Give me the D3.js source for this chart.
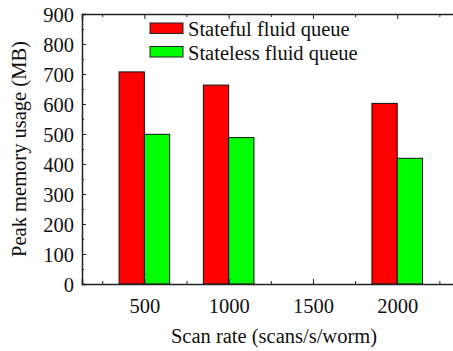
<!DOCTYPE html>
<html><head><meta charset="utf-8">
<script src="https://cdn.jsdelivr.net/npm/d3@7"></script>
<style>body{margin:0;background:#fff;font-family:'Liberation Serif',serif}svg{display:block}svg text{font-family:'Liberation Serif',serif !important}</style>
</head><body>
<script>
const categories = [500, 1000, 2000];
const statefulValues = [707, 663, 602];
const statelessValues = [499, 488, 419];
const seriesNames = ["Stateful fluid queue", "Stateless fluid queue"];
const seriesColors = ["#ff0000", "#00ff00"];
const yTicks = [0,100,200,300,400,500,600,700,800,900];
const xTicks = [500,1000,1500,2000];
const xMinorTicks = [250,750,1250,1750,2250];

const W = 453, H = 351;
const FONT = "Liberation Serif";
const m = {left: 82, top: 14, bottom: 284, right: 459.6};
const svg = d3.select("body").append("svg").attr("width", W).attr("height", H)
  .attr("font-family", FONT);

const x = d3.scaleLinear().domain([130, 2370]).range([m.left, m.right]);
const y = d3.scaleLinear().domain([0, 900]).range([m.bottom, m.top]);
const barW = 150;
const series = [statefulValues, statelessValues];

series.forEach((vals, si) => {
  svg.append("g").selectAll("rect").data(categories).join("rect")
    .attr("x", (d) => si === 0 ? x(d - barW) : x(d))
    .attr("width", x(barW) - x(0))
    .attr("y", (d, i) => y(vals[i]))
    .attr("height", (d, i) => y(0) - y(vals[i]))
    .attr("fill", seriesColors[si])
    .attr("stroke", "#111").attr("stroke-width", 1);
});

const fs = 20.5;
const gy = svg.append("g").attr("transform", `translate(${m.left},0)`)
  .call(d3.axisLeft(y).tickValues(yTicks).tickSize(-4).tickPadding(8));
gy.selectAll("text").attr("font-size", fs).attr("dy", "0.35em");
svg.append("g").attr("transform", `translate(${m.left},0)`)
  .call(d3.axisLeft(y).tickValues(d3.range(50, 900, 100)).tickSize(-2).tickFormat(""))
  .select(".domain").remove();

const gx = svg.append("g").attr("transform", `translate(0,${m.bottom})`)
  .call(d3.axisBottom(x).tickValues(xTicks).tickSize(-5).tickPadding(14).tickFormat(d3.format("d")));
gx.selectAll("text").attr("font-size", fs).attr("dy", "0.71em");
svg.append("g").attr("transform", `translate(0,${m.bottom})`)
  .call(d3.axisBottom(x).tickValues(xMinorTicks).tickSize(-3).tickFormat(""))
  .select(".domain").remove();

svg.append("g").attr("transform", `translate(0,${m.top})`)
  .call(d3.axisTop(x).tickValues(xTicks).tickSize(-5).tickFormat(""));
svg.append("g").attr("transform", `translate(0,${m.top})`)
  .call(d3.axisTop(x).tickValues(xMinorTicks).tickSize(-3).tickFormat(""))
  .select(".domain").remove();

svg.selectAll("g").attr("font-family", FONT).attr("font-size", fs);
svg.selectAll(".domain").attr("stroke", "#222").attr("stroke-width", 1.5);
svg.selectAll(".tick line").attr("stroke", "#222");
svg.selectAll(".tick text").attr("fill", "#111");

const lg = svg.append("g");
seriesNames.forEach((n, i) => {
  lg.append("rect").attr("x", 150).attr("y", 23 + i * 23.5).attr("width", 33).attr("height", 10.5)
    .attr("fill", seriesColors[i]).attr("stroke", "#222").attr("stroke-width", 1);
  lg.append("text").attr("x", 188).attr("y", 36 + i * 23.5).attr("fill", "#111").attr("font-size", fs).text(n);
});

svg.append("text").attr("x", 274).attr("y", 343).attr("text-anchor", "middle").attr("fill", "#111").attr("font-size", fs)
  .text("Scan rate (scans/s/worm)");
svg.append("text").attr("transform", "translate(26,149) rotate(-90)").attr("text-anchor", "middle").attr("fill", "#111").attr("font-size", fs)
  .text("Peak memory usage (MB)");
svg.selectAll("text").attr("font-family", FONT);
</script>
</body></html>
